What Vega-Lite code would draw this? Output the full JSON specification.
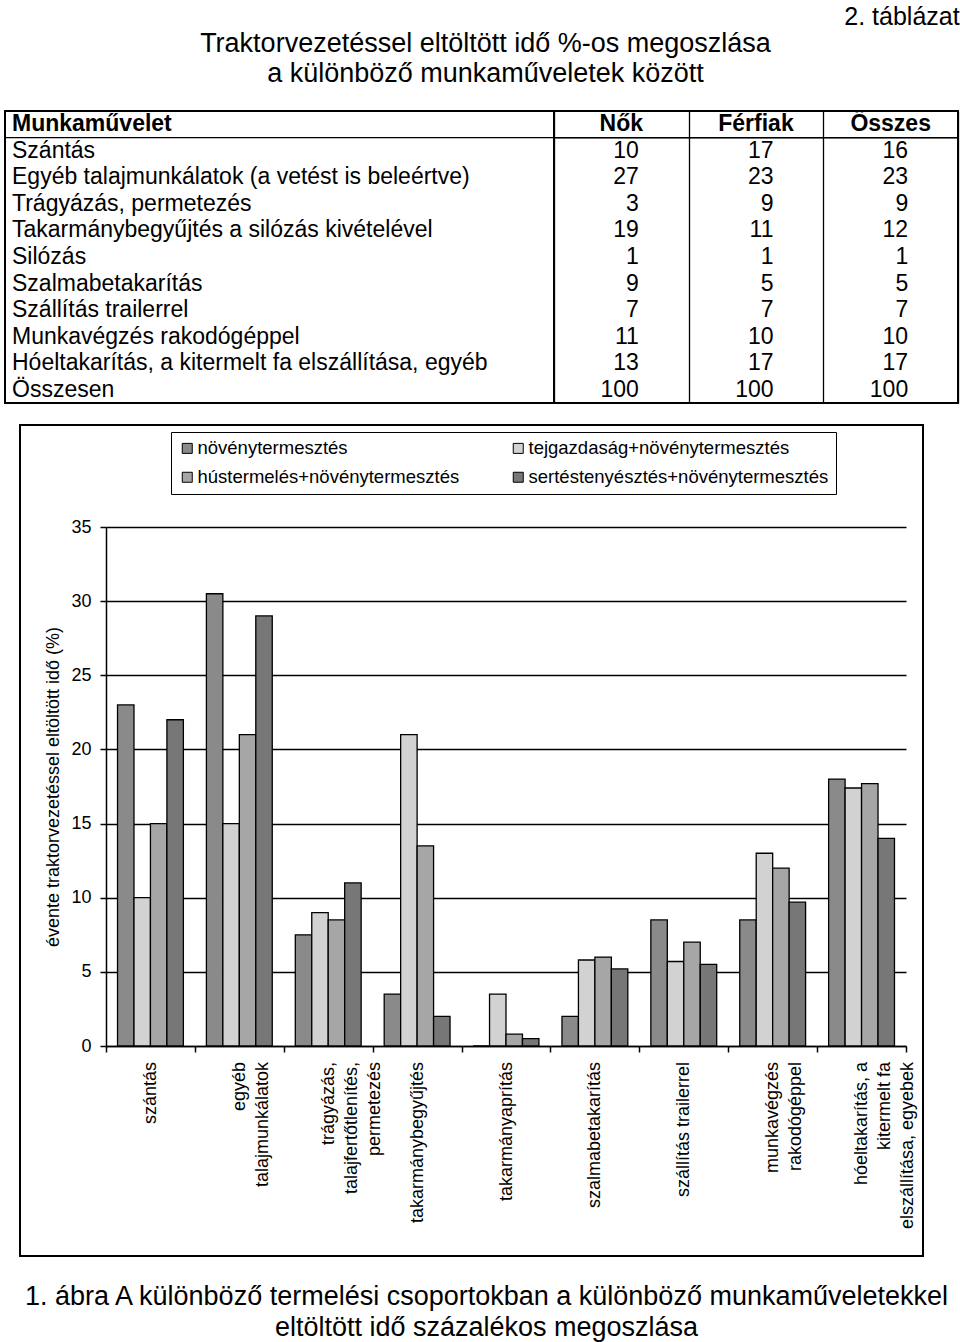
{
  "$schema": "https://vega.github.io/schema/vega-lite/v6.json",
  "background": "white",
  "padding": {"left": 3, "top": 5, "right": 0, "bottom": 0},
  "config": {
    "font": "Liberation Sans",
    "view": {"stroke": null},
    "title": {"color": "black", "fontWeight": "normal"},
    "axis": {"labelColor": "black", "titleColor": "black", "domainColor": "black", "tickColor": "black", "gridColor": "black", "gridOpacity": 1},
    "legend": {"labelColor": "black"}
  },
  "title": {"text": "2. táblázat", "anchor": "end", "fontSize": 25, "offset": 0},
  "datasets": {
    "sorok": [
      {"sor": "Munkaművelet"},
      {"sor": "Szántás"},
      {"sor": "Egyéb talajmunkálatok (a vetést is beleértve)"},
      {"sor": "Trágyázás, permetezés"},
      {"sor": "Takarmánybegyűjtés a silózás kivételével"},
      {"sor": "Silózás"},
      {"sor": "Szalmabetakarítás"},
      {"sor": "Szállítás trailerrel"},
      {"sor": "Munkavégzés rakodógéppel"},
      {"sor": "Hóeltakarítás, a kitermelt fa elszállítása, egyéb"},
      {"sor": "Összesen"}
    ],
    "fejlec": [
      {"sor": "Munkaművelet", "oszlop": "Nők"},
      {"sor": "Munkaművelet", "oszlop": "Férfiak"},
      {"sor": "Munkaművelet", "oszlop": "Összes"}
    ],
    "ertekek": [
      {"sor": "Szántás", "oszlop": "Nők", "ertek": 10},
      {"sor": "Szántás", "oszlop": "Férfiak", "ertek": 17},
      {"sor": "Szántás", "oszlop": "Összes", "ertek": 16},
      {"sor": "Egyéb talajmunkálatok (a vetést is beleértve)", "oszlop": "Nők", "ertek": 27},
      {"sor": "Egyéb talajmunkálatok (a vetést is beleértve)", "oszlop": "Férfiak", "ertek": 23},
      {"sor": "Egyéb talajmunkálatok (a vetést is beleértve)", "oszlop": "Összes", "ertek": 23},
      {"sor": "Trágyázás, permetezés", "oszlop": "Nők", "ertek": 3},
      {"sor": "Trágyázás, permetezés", "oszlop": "Férfiak", "ertek": 9},
      {"sor": "Trágyázás, permetezés", "oszlop": "Összes", "ertek": 9},
      {"sor": "Takarmánybegyűjtés a silózás kivételével", "oszlop": "Nők", "ertek": 19},
      {"sor": "Takarmánybegyűjtés a silózás kivételével", "oszlop": "Férfiak", "ertek": 11},
      {"sor": "Takarmánybegyűjtés a silózás kivételével", "oszlop": "Összes", "ertek": 12},
      {"sor": "Silózás", "oszlop": "Nők", "ertek": 1},
      {"sor": "Silózás", "oszlop": "Férfiak", "ertek": 1},
      {"sor": "Silózás", "oszlop": "Összes", "ertek": 1},
      {"sor": "Szalmabetakarítás", "oszlop": "Nők", "ertek": 9},
      {"sor": "Szalmabetakarítás", "oszlop": "Férfiak", "ertek": 5},
      {"sor": "Szalmabetakarítás", "oszlop": "Összes", "ertek": 5},
      {"sor": "Szállítás trailerrel", "oszlop": "Nők", "ertek": 7},
      {"sor": "Szállítás trailerrel", "oszlop": "Férfiak", "ertek": 7},
      {"sor": "Szállítás trailerrel", "oszlop": "Összes", "ertek": 7},
      {"sor": "Munkavégzés rakodógéppel", "oszlop": "Nők", "ertek": 11},
      {"sor": "Munkavégzés rakodógéppel", "oszlop": "Férfiak", "ertek": 10},
      {"sor": "Munkavégzés rakodógéppel", "oszlop": "Összes", "ertek": 10},
      {"sor": "Hóeltakarítás, a kitermelt fa elszállítása, egyéb", "oszlop": "Nők", "ertek": 13},
      {"sor": "Hóeltakarítás, a kitermelt fa elszállítása, egyéb", "oszlop": "Férfiak", "ertek": 17},
      {"sor": "Hóeltakarítás, a kitermelt fa elszállítása, egyéb", "oszlop": "Összes", "ertek": 17},
      {"sor": "Összesen", "oszlop": "Nők", "ertek": 100},
      {"sor": "Összesen", "oszlop": "Férfiak", "ertek": 100},
      {"sor": "Összesen", "oszlop": "Összes", "ertek": 100}
    ],
    "diagram": [
      {"muvelet": "szántás", "csoport": "növénytermesztés", "ertek": 23},
      {"muvelet": "szántás", "csoport": "tejgazdaság+növénytermesztés", "ertek": 10},
      {"muvelet": "szántás", "csoport": "hústermelés+növénytermesztés", "ertek": 15},
      {"muvelet": "szántás", "csoport": "sertéstenyésztés+növénytermesztés", "ertek": 22},
      {"muvelet": "egyéb\ntalajmunkálatok", "csoport": "növénytermesztés", "ertek": 30.5},
      {"muvelet": "egyéb\ntalajmunkálatok", "csoport": "tejgazdaság+növénytermesztés", "ertek": 15},
      {"muvelet": "egyéb\ntalajmunkálatok", "csoport": "hústermelés+növénytermesztés", "ertek": 21},
      {"muvelet": "egyéb\ntalajmunkálatok", "csoport": "sertéstenyésztés+növénytermesztés", "ertek": 29},
      {"muvelet": "trágyázás,\ntalajfertőtlenítés,\npermetezés", "csoport": "növénytermesztés", "ertek": 7.5},
      {"muvelet": "trágyázás,\ntalajfertőtlenítés,\npermetezés", "csoport": "tejgazdaság+növénytermesztés", "ertek": 9},
      {"muvelet": "trágyázás,\ntalajfertőtlenítés,\npermetezés", "csoport": "hústermelés+növénytermesztés", "ertek": 8.5},
      {"muvelet": "trágyázás,\ntalajfertőtlenítés,\npermetezés", "csoport": "sertéstenyésztés+növénytermesztés", "ertek": 11},
      {"muvelet": "takarmánybegyűjtés", "csoport": "növénytermesztés", "ertek": 3.5},
      {"muvelet": "takarmánybegyűjtés", "csoport": "tejgazdaság+növénytermesztés", "ertek": 21},
      {"muvelet": "takarmánybegyűjtés", "csoport": "hústermelés+növénytermesztés", "ertek": 13.5},
      {"muvelet": "takarmánybegyűjtés", "csoport": "sertéstenyésztés+növénytermesztés", "ertek": 2},
      {"muvelet": "takarmányaprítás", "csoport": "növénytermesztés", "ertek": 0},
      {"muvelet": "takarmányaprítás", "csoport": "tejgazdaság+növénytermesztés", "ertek": 3.5},
      {"muvelet": "takarmányaprítás", "csoport": "hústermelés+növénytermesztés", "ertek": 0.8},
      {"muvelet": "takarmányaprítás", "csoport": "sertéstenyésztés+növénytermesztés", "ertek": 0.5},
      {"muvelet": "szalmabetakarítás", "csoport": "növénytermesztés", "ertek": 2},
      {"muvelet": "szalmabetakarítás", "csoport": "tejgazdaság+növénytermesztés", "ertek": 5.8},
      {"muvelet": "szalmabetakarítás", "csoport": "hústermelés+növénytermesztés", "ertek": 6},
      {"muvelet": "szalmabetakarítás", "csoport": "sertéstenyésztés+növénytermesztés", "ertek": 5.2},
      {"muvelet": "szállítás trailerrel", "csoport": "növénytermesztés", "ertek": 8.5},
      {"muvelet": "szállítás trailerrel", "csoport": "tejgazdaság+növénytermesztés", "ertek": 5.7},
      {"muvelet": "szállítás trailerrel", "csoport": "hústermelés+növénytermesztés", "ertek": 7},
      {"muvelet": "szállítás trailerrel", "csoport": "sertéstenyésztés+növénytermesztés", "ertek": 5.5},
      {"muvelet": "munkavégzés\nrakodógéppel", "csoport": "növénytermesztés", "ertek": 8.5},
      {"muvelet": "munkavégzés\nrakodógéppel", "csoport": "tejgazdaság+növénytermesztés", "ertek": 13},
      {"muvelet": "munkavégzés\nrakodógéppel", "csoport": "hústermelés+növénytermesztés", "ertek": 12},
      {"muvelet": "munkavégzés\nrakodógéppel", "csoport": "sertéstenyésztés+növénytermesztés", "ertek": 9.7},
      {"muvelet": "hóeltakarítás, a\nkitermelt fa\nelszállítása, egyebek", "csoport": "növénytermesztés", "ertek": 18},
      {"muvelet": "hóeltakarítás, a\nkitermelt fa\nelszállítása, egyebek", "csoport": "tejgazdaság+növénytermesztés", "ertek": 17.4},
      {"muvelet": "hóeltakarítás, a\nkitermelt fa\nelszállítása, egyebek", "csoport": "hústermelés+növénytermesztés", "ertek": 17.7},
      {"muvelet": "hóeltakarítás, a\nkitermelt fa\nelszállítása, egyebek", "csoport": "sertéstenyésztés+növénytermesztés", "ertek": 14}
    ]
  },
  "spacing": 20,
  "resolve": {"scale": {"x": "independent", "y": "independent", "fill": "independent"}},
  "vconcat": [
    {
      "title": {"text": ["Traktorvezetéssel eltöltött idő %-os megoszlása", "a különböző munkaműveletek között"], "fontSize": 27, "lineHeight": 30, "anchor": "middle", "dx": 4, "offset": 22},
      "spacing": 0,
      "bounds": "flush",
      "resolve": {"scale": {"x": "independent", "y": "independent"}},
      "hconcat": [
        {
          "width": 549,
          "height": 292,
          "view": {"stroke": "black", "strokeWidth": 2},
          "data": {"name": "sorok"},
          "encoding": {
            "y": {"field": "sor", "type": "nominal", "axis": null, "sort": null,
              "scale": {"type": "band", "paddingInner": 0, "paddingOuter": 0,
                "domain": ["Munkaművelet", "Szántás", "Egyéb talajmunkálatok (a vetést is beleértve)", "Trágyázás, permetezés", "Takarmánybegyűjtés a silózás kivételével", "Silózás", "Szalmabetakarítás", "Szállítás trailerrel", "Munkavégzés rakodógéppel", "Hóeltakarítás, a kitermelt fa elszállítása, egyéb", "Összesen"]}}
          },
          "layer": [
            {
              "transform": [{"filter": "datum.sor !== 'Munkaművelet'"}],
              "mark": {"type": "text", "align": "left", "dx": 7, "fontSize": 23, "color": "black"},
              "encoding": {
                "x": {"datum": 0, "type": "quantitative", "scale": {"domain": [0, 1]}, "axis": null},
                "text": {"field": "sor"}
              }
            },
            {
              "transform": [{"filter": "datum.sor === 'Munkaművelet'"}],
              "mark": {"type": "text", "align": "left", "dx": 7, "fontSize": 23, "fontWeight": "bold", "color": "black"},
              "encoding": {
                "x": {"datum": 0, "type": "quantitative", "scale": {"domain": [0, 1]}, "axis": null},
                "text": {"field": "sor"}
              }
            },
            {
              "transform": [{"filter": "datum.sor === 'Munkaművelet'"}],
              "mark": {"type": "rule", "color": "black", "strokeWidth": 1.3},
              "encoding": {
                "y": {"field": "sor", "type": "nominal", "bandPosition": 1}
              }
            }
          ]
        },
        {
          "width": 404,
          "height": 292,
          "view": {"stroke": "black", "strokeWidth": 2},
          "encoding": {
            "y": {"field": "sor", "type": "nominal", "axis": null, "sort": null,
              "scale": {"type": "band", "paddingInner": 0, "paddingOuter": 0,
                "domain": ["Munkaművelet", "Szántás", "Egyéb talajmunkálatok (a vetést is beleértve)", "Trágyázás, permetezés", "Takarmánybegyűjtés a silózás kivételével", "Silózás", "Szalmabetakarítás", "Szállítás trailerrel", "Munkavégzés rakodógéppel", "Hóeltakarítás, a kitermelt fa elszállítása, egyéb", "Összesen"]}}
          },
          "layer": [
            {
              "data": {"name": "ertekek"},
              "mark": {"type": "text", "align": "right", "fontSize": 23, "color": "black"},
              "encoding": {
                "x": {"field": "oszlop", "type": "nominal", "sort": null, "bandPosition": 0.63,
                  "scale": {"type": "band", "domain": ["Nők", "Férfiak", "Összes"], "paddingInner": 0, "paddingOuter": 0},
                  "axis": {"orient": "top", "grid": true, "tickBand": "extent", "labels": false, "ticks": false, "domain": false, "title": null, "gridColor": "black", "gridWidth": 1.3}},
                "text": {"field": "ertek", "type": "quantitative"}
              }
            },
            {
              "data": {"name": "fejlec"},
              "mark": {"type": "text", "align": "center", "fontSize": 23, "fontWeight": "bold", "color": "black"},
              "encoding": {
                "x": {"field": "oszlop", "type": "nominal", "sort": null, "bandPosition": 0.5},
                "text": {"field": "oszlop"}
              }
            },
            {
              "data": {"name": "fejlec"},
              "mark": {"type": "rule", "color": "black", "strokeWidth": 1.3},
              "encoding": {
                "y": {"field": "sor", "type": "nominal", "bandPosition": 1}
              }
            }
          ]
        }
      ]
    },
    {
      "spacing": 0,
      "bounds": "flush",
      "resolve": {"scale": {"x": "independent", "y": "independent"}},
      "hconcat": [
        {
          "width": 15,
          "height": 10,
          "data": {"values": [{"a": 1}]},
          "mark": {"type": "point", "opacity": 0},
          "encoding": {}
        },
        {
          "width": 903,
          "height": 831,
          "view": {"stroke": "black", "strokeWidth": 2},
          "title": {"text": ["1. ábra A különböző termelési csoportokban a különböző munkaműveletekkel", "eltöltött idő százalékos megoszlása"], "orient": "bottom", "anchor": "middle", "dx": 15, "fontSize": 27, "lineHeight": 31, "offset": 28},
          "data": {"name": "diagram"},
          "mark": {"type": "bar", "stroke": "black", "strokeWidth": 1.3},
          "encoding": {
            "x": {"field": "muvelet", "type": "nominal", "sort": null,
              "scale": {"domain": ["szántás", "egyéb\ntalajmunkálatok", "trágyázás,\ntalajfertőtlenítés,\npermetezés", "takarmánybegyűjtés", "takarmányaprítás", "szalmabetakarítás", "szállítás trailerrel", "munkavégzés\nrakodógéppel", "hóeltakarítás, a\nkitermelt fa\nelszállítása, egyebek"], "range": [86, 886], "paddingInner": 0, "paddingOuter": 0},
              "axis": {"orient": "bottom", "offset": -210, "title": null, "grid": false, "tickBand": "extent", "tickSize": 6, "tickWidth": 1.5, "domainWidth": 1.5, "labelAngle": -90, "labelAlign": "right", "labelBaseline": "middle", "labelFontSize": 18, "labelLineHeight": 23, "labelPadding": 9.5, "labelLimit": 500, "labelOverlap": false, "labelExpr": "split(datum.label, '\\n')"}},
            "xOffset": {"field": "csoport", "type": "nominal", "sort": null,
              "scale": {"domain": ["növénytermesztés", "tejgazdaság+növénytermesztés", "hústermelés+növénytermesztés", "sertéstenyésztés+növénytermesztés"], "paddingInner": 0, "paddingOuter": 0.7}},
            "y": {"field": "ertek", "type": "quantitative",
              "scale": {"domain": [0, 35], "range": [621, 102], "nice": false, "zero": true},
              "axis": {"offset": -86, "values": [0, 5, 10, 15, 20, 25, 30, 35], "grid": true, "gridWidth": 1.3, "domainWidth": 1.5, "tickWidth": 1.5, "tickSize": 6, "labelFontSize": 18, "labelPadding": 9, "title": "évente traktorvezetéssel eltöltött idő (%)", "titleFontSize": 18, "titleFontWeight": "normal", "titlePadding": 8}},
            "fill": {"field": "csoport", "type": "nominal", "sort": null,
              "scale": {"domain": ["növénytermesztés", "hústermelés+növénytermesztés", "tejgazdaság+növénytermesztés", "sertéstenyésztés+növénytermesztés"], "range": ["#8a8a8a", "#a6a6a6", "#d2d2d2", "#777777"]},
              "legend": {"title": null, "orient": "none", "legendX": 166, "legendY": 7, "columns": 2, "columnPadding": 49, "rowPadding": 10, "padding": 7, "strokeColor": "black", "fillColor": "white", "labelFontSize": 18.5, "labelLimit": 500, "symbolType": "square", "symbolSize": 100, "symbolStrokeColor": "black", "symbolStrokeWidth": 1, "symbolOpacity": 1, "symbolOffset": 0, "labelOffset": 1}}
          }
        }
      ]
    }
  ]
}
